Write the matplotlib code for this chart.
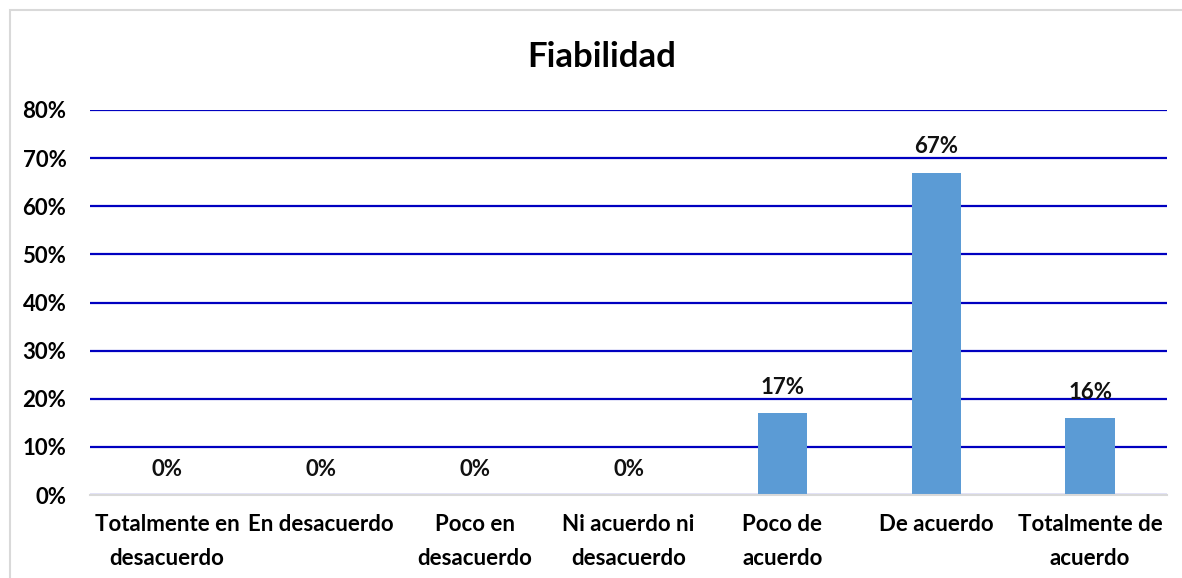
import matplotlib
matplotlib.use("Agg")
import matplotlib.pyplot as plt
from matplotlib.patches import Rectangle
from matplotlib.ticker import PercentFormatter

categories = ["Totalmente en\ndesacuerdo", "En desacuerdo", "Poco en\ndesacuerdo",
              "Ni acuerdo ni\ndesacuerdo", "Poco de\nacuerdo", "De acuerdo",
              "Totalmente de\nacuerdo"]
values = [0, 0, 0, 0, 17, 67, 16]
yticks = [0, 10, 20, 30, 40, 50, 60, 70, 80]
title = "Fiabilidad"

plt.rcParams['font.family'] = ['Lato', 'DejaVu Sans']

W, H = 1182, 578
fig = plt.figure(figsize=(W / 100, H / 100), dpi=100)
ax = fig.add_axes([90 / W, 1 - 495 / H, (1167 - 90) / W, (495 - 110) / H])

x = list(range(len(categories)))
bars = ax.bar(x, values, width=0.32, color="#5B9BD5", zorder=3)
ax.set_xlim(-0.5, len(categories) - 0.5)
ax.set_ylim(0, 80)
ax.set_yticks(yticks)
ax.yaxis.set_major_formatter(PercentFormatter(decimals=0))
ax.grid(axis="y", color="#0000C0", linewidth=1.6, zorder=0)
ax.set_axisbelow(True)
for s in ["top", "right", "left"]:
    ax.spines[s].set_visible(False)
ax.spines["bottom"].set_color("#D9D9D9")
ax.spines["bottom"].set_linewidth(1.5)
ax.spines["bottom"].set_zorder(4)
ax.tick_params(axis="both", length=0, labelsize=16)
ax.tick_params(axis="y", pad=17)
ax.tick_params(axis="x", pad=14)
ax.set_xticks(x)
ax.set_xticklabels(categories, fontweight="bold", linespacing=1.75)
for lbl in ax.get_yticklabels():
    lbl.set_fontweight("bold")

for xi, v in zip(x, values):
    ax.annotate(f"{v}%", (xi, v), xytext=(0, 11), textcoords="offset points",
                ha="center", va="bottom", fontsize=16, fontweight="bold", color="#111111")

fig.text(602 / W, 1 - 57 / H, title, ha="center", va="center", fontsize=25, fontweight="bold")

fig.add_artist(Rectangle((10 / W, -0.01), 1.02, 1 - 10 / H + 0.01, transform=fig.transFigure,
                         fill=False, edgecolor="#D9D9D9", linewidth=1.5))

fig.savefig("out.png", dpi=100, facecolor="white")
